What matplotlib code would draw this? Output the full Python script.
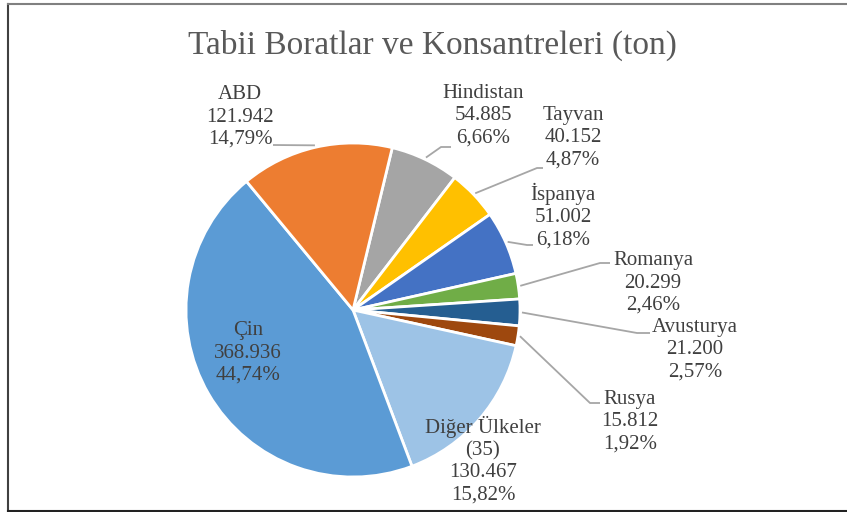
import numpy as np
import matplotlib
matplotlib.use("Agg")
import matplotlib.pyplot as plt

# data
names = ["Hindistan", "Tayvan", "İspanya", "Romanya", "Avusturya", "Rusya",
         "Diğer Ülkeler\n(35)", "Çin", "ABD"]
values = [54885, 40152, 51002, 20299, 21200, 15812, 130467, 368936, 121942]
colors = ["#A5A5A5", "#FFC000", "#4472C4", "#70AD47", "#255E91", "#9E480E",
          "#9DC3E6", "#5B9BD5", "#ED7D31"]
title = "Tabii Boratlar ve Konsantreleri (ton)"

W, H = 847, 512
fig = plt.figure(figsize=(W / 100, H / 100), dpi=100)
ax = fig.add_axes([0, 0, 1, 1])

cx, cy, r = 353, H - 310, 167
start = 76.4
ax.pie(values, colors=colors, center=(cx, cy), radius=r, startangle=start,
       counterclock=False, wedgeprops=dict(edgecolor="white", linewidth=2))
ax.set_xlim(0, W)
ax.set_ylim(0, H)
ax.set_aspect("equal")
ax.axis("off")

total = float(sum(values))
fam = "Liberation Serif"
tcol = "#404040"
lcol = "#A6A6A6"

# label positions (pixel coords from top-left) and leader elbows
lab_pos = {
    "Hindistan": (483, 116), "Tayvan": (573, 138), "İspanya": (563, 216),
    "Romanya": (653, 283), "Avusturya": (695, 350), "Rusya": (630, 422),
    "Diğer Ülkeler\n(35)": (483, 460), "Çin": (248, 353), "ABD": (240, 117),
}
elbows = {
    "Hindistan": [(441, 147), (451, 147)],
    "Tayvan": [(537, 168), (543, 168)],
    "İspanya": [(527, 245), (533, 245)],
    "Romanya": [(600, 263), (610, 263)],
    "Avusturya": [(637, 333), (650, 333)],
    "Rusya": [(590, 403), (600, 403)],
    "ABD": [(273, 145)],
}

ang = start
for n, v in zip(names, values):
    sweep = v / total * 360
    mid = np.deg2rad(ang - sweep / 2)
    ang -= sweep
    pct = f"{v / total * 100:.2f}".replace(".", ",") + "%"
    val = f"{v:,}".replace(",", ".")
    x, y = lab_pos[n]
    ax.text(x, H - y, f"{n}\n{val}\n{pct}", ha="center", va="center",
            fontsize=15, family=fam, color=tcol, linespacing=1.22)
    if n in elbows:
        ex = cx + (r + 2) * np.cos(mid)
        ey = cy + (r + 2) * np.sin(mid)
        pts = [(ex, ey)] + [(px, H - py) for px, py in elbows[n]]
        xs, ys = zip(*pts)
        ax.plot(xs, ys, color=lcol, lw=1.3, solid_capstyle="butt")

ax.text(432, H - 45, title, ha="center", va="center", fontsize=24,
        family=fam, color="#595959")

# chart frame
ax.plot([7.5, 7.5], [H - 3.5, H - 510.5], color="#404040", lw=1.5)
ax.plot([7.5, W], [H - 3.5, H - 3.5], color="#808080", lw=1.5)
ax.plot([7.5, W], [H - 510.5, H - 510.5], color="#222222", lw=1.5)

fig.savefig("out.png", dpi=100)
